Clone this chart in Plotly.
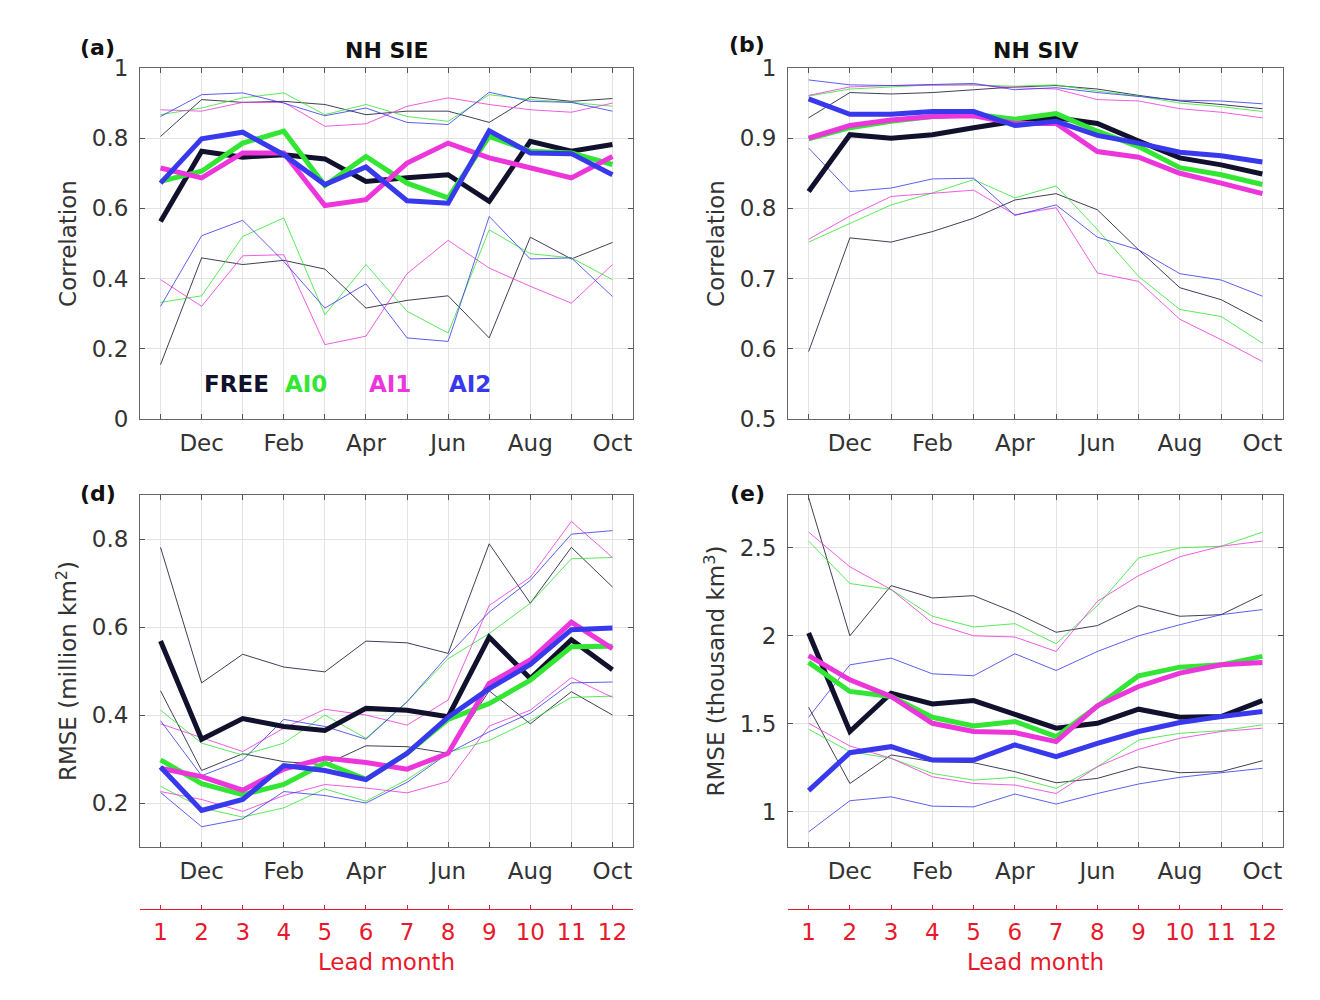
import plotly.graph_objects as go

# ---------------- data ----------------
leads = list(range(1, 13))
month_vals = [2, 4, 6, 8, 10, 12]
month_labels = ["Dec", "Feb", "Apr", "Jun", "Aug", "Oct"]
odd_leads = [1, 3, 5, 7, 9, 11]
lead_ticks = [str(i) for i in leads]
experiments = ["FREE", "AI0", "AI1", "AI2"]

# (a) NH SIE correlation
sie_corr_free = [0.563, 0.763, 0.746, 0.753, 0.741, 0.677, 0.687, 0.696, 0.620, 0.791, 0.763, 0.782]
sie_corr_ai0 = [0.677, 0.706, 0.786, 0.820, 0.665, 0.748, 0.672, 0.630, 0.805, 0.763, 0.758, 0.725]
sie_corr_ai1 = [0.715, 0.687, 0.758, 0.758, 0.608, 0.625, 0.729, 0.786, 0.744, 0.715, 0.687, 0.748]
sie_corr_ai2 = [0.672, 0.798, 0.817, 0.753, 0.668, 0.718, 0.622, 0.615, 0.821, 0.758, 0.756, 0.696]
sie_corr_free_hi = [0.805, 0.910, 0.902, 0.905, 0.896, 0.867, 0.877, 0.877, 0.845, 0.917, 0.905, 0.913]
sie_corr_ai0_hi = [0.867, 0.886, 0.915, 0.929, 0.867, 0.896, 0.862, 0.848, 0.924, 0.910, 0.902, 0.891]
sie_corr_ai1_hi = [0.881, 0.877, 0.902, 0.902, 0.834, 0.841, 0.891, 0.915, 0.896, 0.881, 0.874, 0.900]
sie_corr_ai2_hi = [0.862, 0.924, 0.929, 0.900, 0.864, 0.886, 0.845, 0.839, 0.931, 0.905, 0.902, 0.877]
sie_corr_free_lo = [0.155, 0.459, 0.440, 0.452, 0.427, 0.316, 0.338, 0.351, 0.231, 0.518, 0.456, 0.503]
sie_corr_ai0_lo = [0.332, 0.351, 0.520, 0.573, 0.297, 0.440, 0.307, 0.245, 0.539, 0.471, 0.459, 0.397]
sie_corr_ai1_lo = [0.397, 0.321, 0.465, 0.468, 0.212, 0.236, 0.414, 0.509, 0.430, 0.378, 0.330, 0.440]
sie_corr_ai2_lo = [0.321, 0.522, 0.566, 0.449, 0.316, 0.385, 0.231, 0.221, 0.577, 0.456, 0.459, 0.349]

# (b) NH SIV correlation
siv_corr_free = [0.824, 0.905, 0.900, 0.905, 0.915, 0.924, 0.929, 0.921, 0.896, 0.872, 0.862, 0.849]
siv_corr_ai0 = [0.899, 0.915, 0.924, 0.931, 0.934, 0.927, 0.935, 0.910, 0.888, 0.858, 0.848, 0.834]
siv_corr_ai1 = [0.900, 0.918, 0.926, 0.931, 0.932, 0.921, 0.921, 0.881, 0.873, 0.850, 0.836, 0.821]
siv_corr_ai2 = [0.956, 0.934, 0.934, 0.938, 0.938, 0.918, 0.924, 0.904, 0.893, 0.880, 0.875, 0.866]
siv_corr_free_hi = [0.929, 0.965, 0.963, 0.965, 0.969, 0.973, 0.975, 0.970, 0.961, 0.953, 0.948, 0.942]
siv_corr_ai0_hi = [0.960, 0.970, 0.973, 0.976, 0.976, 0.974, 0.976, 0.967, 0.960, 0.950, 0.945, 0.938]
siv_corr_ai1_hi = [0.961, 0.973, 0.975, 0.976, 0.976, 0.972, 0.970, 0.955, 0.953, 0.942, 0.937, 0.929]
siv_corr_ai2_hi = [0.983, 0.976, 0.975, 0.976, 0.978, 0.969, 0.972, 0.965, 0.960, 0.954, 0.953, 0.949]
siv_corr_free_lo = [0.596, 0.758, 0.752, 0.767, 0.786, 0.812, 0.821, 0.798, 0.741, 0.687, 0.670, 0.639]
siv_corr_ai0_lo = [0.752, 0.779, 0.805, 0.822, 0.841, 0.815, 0.832, 0.770, 0.703, 0.656, 0.646, 0.608]
siv_corr_ai1_lo = [0.756, 0.789, 0.817, 0.822, 0.826, 0.791, 0.801, 0.708, 0.696, 0.642, 0.613, 0.582]
siv_corr_ai2_lo = [0.886, 0.824, 0.829, 0.842, 0.843, 0.790, 0.805, 0.759, 0.741, 0.707, 0.698, 0.675]

# (d) NH SIE RMSE (million km2)
sie_rmse_free = [0.568, 0.345, 0.392, 0.374, 0.365, 0.415, 0.411, 0.396, 0.577, 0.483, 0.571, 0.503]
sie_rmse_ai0 = [0.298, 0.244, 0.219, 0.242, 0.291, 0.254, 0.313, 0.390, 0.426, 0.479, 0.555, 0.556]
sie_rmse_ai1 = [0.279, 0.260, 0.229, 0.277, 0.302, 0.292, 0.277, 0.313, 0.472, 0.525, 0.611, 0.551]
sie_rmse_ai2 = [0.282, 0.183, 0.208, 0.285, 0.274, 0.253, 0.313, 0.395, 0.460, 0.515, 0.594, 0.598]
sie_rmse_free_hi = [0.781, 0.473, 0.538, 0.509, 0.498, 0.568, 0.564, 0.540, 0.789, 0.654, 0.781, 0.691]
sie_rmse_ai0_hi = [0.411, 0.336, 0.309, 0.336, 0.400, 0.347, 0.430, 0.528, 0.585, 0.654, 0.755, 0.758]
sie_rmse_ai1_hi = [0.380, 0.349, 0.317, 0.370, 0.413, 0.400, 0.377, 0.434, 0.649, 0.713, 0.840, 0.758]
sie_rmse_ai2_hi = [0.387, 0.262, 0.298, 0.390, 0.374, 0.345, 0.430, 0.536, 0.634, 0.706, 0.811, 0.819]
sie_rmse_free_lo = [0.455, 0.274, 0.312, 0.294, 0.287, 0.330, 0.328, 0.313, 0.455, 0.380, 0.453, 0.400]
sie_rmse_ai0_lo = [0.238, 0.189, 0.168, 0.189, 0.232, 0.204, 0.253, 0.315, 0.342, 0.387, 0.440, 0.443]
sie_rmse_ai1_lo = [0.226, 0.208, 0.181, 0.217, 0.242, 0.234, 0.223, 0.249, 0.375, 0.411, 0.485, 0.440]
sie_rmse_ai2_lo = [0.224, 0.146, 0.164, 0.226, 0.217, 0.200, 0.247, 0.313, 0.362, 0.404, 0.473, 0.475]

# (e) NH SIV RMSE (thousand km3)
siv_rmse_free = [2.016, 1.456, 1.674, 1.613, 1.632, 1.551, 1.475, 1.503, 1.583, 1.537, 1.541, 1.632]
siv_rmse_ai0 = [1.849, 1.684, 1.655, 1.537, 1.488, 1.513, 1.427, 1.602, 1.773, 1.822, 1.835, 1.883]
siv_rmse_ai1 = [1.887, 1.750, 1.655, 1.503, 1.456, 1.450, 1.399, 1.602, 1.712, 1.788, 1.835, 1.849]
siv_rmse_ai2 = [1.120, 1.336, 1.370, 1.294, 1.294, 1.380, 1.313, 1.389, 1.456, 1.507, 1.541, 1.570]
siv_rmse_free_hi = [2.785, 2.000, 2.285, 2.215, 2.228, 2.133, 2.020, 2.058, 2.171, 2.111, 2.120, 2.234]
siv_rmse_ai0_hi = [2.538, 2.297, 2.263, 2.111, 2.050, 2.069, 1.955, 2.171, 2.443, 2.500, 2.509, 2.589]
siv_rmse_ai1_hi = [2.589, 2.392, 2.263, 2.073, 2.000, 1.993, 1.911, 2.196, 2.342, 2.449, 2.509, 2.538]
siv_rmse_ai2_hi = [1.537, 1.835, 1.873, 1.784, 1.773, 1.898, 1.803, 1.911, 2.000, 2.063, 2.120, 2.149]
siv_rmse_free_lo = [1.594, 1.161, 1.323, 1.285, 1.279, 1.228, 1.165, 1.190, 1.256, 1.222, 1.228, 1.290]
siv_rmse_ai0_lo = [1.469, 1.342, 1.304, 1.218, 1.180, 1.196, 1.133, 1.256, 1.408, 1.446, 1.461, 1.494]
siv_rmse_ai1_lo = [1.503, 1.374, 1.304, 1.199, 1.161, 1.152, 1.104, 1.256, 1.355, 1.418, 1.456, 1.475]
siv_rmse_ai2_lo = [0.886, 1.063, 1.085, 1.032, 1.028, 1.101, 1.044, 1.104, 1.158, 1.196, 1.222, 1.247]

# ---------------- styling ----------------
colors = {"FREE": "#11112e", "AI0": "#33e633", "AI1": "#ec36dc", "AI2": "#3838ec"}
FONT = "DejaVu Sans"
TXT = "#333333"
RED = "#e8192a"
W, H = 1320, 1000


def px_x(p):
    return p / W


def px_y(p):
    return 1 - p / H


xdom_left = [px_x(140), px_x(633)]
xdom_right = [px_x(788), px_x(1283)]
ydom_top = [px_y(419), px_y(68)]
ydom_bot = [px_y(847), px_y(495)]

panels = [
    ("", xdom_left, ydom_top,
     {"FREE": (sie_corr_free, sie_corr_free_hi, sie_corr_free_lo),
      "AI0": (sie_corr_ai0, sie_corr_ai0_hi, sie_corr_ai0_lo),
      "AI1": (sie_corr_ai1, sie_corr_ai1_hi, sie_corr_ai1_lo),
      "AI2": (sie_corr_ai2, sie_corr_ai2_hi, sie_corr_ai2_lo)},
     [0, 1], [0, 0.2, 0.4, 0.6, 0.8, 1], ["0", "0.2", "0.4", "0.6", "0.8", "1"], "Correlation"),
    ("2", xdom_right, ydom_top,
     {"FREE": (siv_corr_free, siv_corr_free_hi, siv_corr_free_lo),
      "AI0": (siv_corr_ai0, siv_corr_ai0_hi, siv_corr_ai0_lo),
      "AI1": (siv_corr_ai1, siv_corr_ai1_hi, siv_corr_ai1_lo),
      "AI2": (siv_corr_ai2, siv_corr_ai2_hi, siv_corr_ai2_lo)},
     [0.5, 1], [0.5, 0.6, 0.7, 0.8, 0.9, 1], ["0.5", "0.6", "0.7", "0.8", "0.9", "1"], "Correlation"),
    ("3", xdom_left, ydom_bot,
     {"FREE": (sie_rmse_free, sie_rmse_free_hi, sie_rmse_free_lo),
      "AI0": (sie_rmse_ai0, sie_rmse_ai0_hi, sie_rmse_ai0_lo),
      "AI1": (sie_rmse_ai1, sie_rmse_ai1_hi, sie_rmse_ai1_lo),
      "AI2": (sie_rmse_ai2, sie_rmse_ai2_hi, sie_rmse_ai2_lo)},
     [0.1, 0.9], [0.2, 0.4, 0.6, 0.8], ["0.2", "0.4", "0.6", "0.8"], "RMSE (million km<sup>2</sup>)"),
    ("4", xdom_right, ydom_bot,
     {"FREE": (siv_rmse_free, siv_rmse_free_hi, siv_rmse_free_lo),
      "AI0": (siv_rmse_ai0, siv_rmse_ai0_hi, siv_rmse_ai0_lo),
      "AI1": (siv_rmse_ai1, siv_rmse_ai1_hi, siv_rmse_ai1_lo),
      "AI2": (siv_rmse_ai2, siv_rmse_ai2_hi, siv_rmse_ai2_lo)},
     [0.8, 2.8], [1, 1.5, 2, 2.5], ["1", "1.5", "2", "2.5"], "RMSE (thousand km<sup>3</sup>)"),
]

fig = go.Figure()
layout = {}

for suf, xdom, ydom, data, yr, ytv, ytt, ytitle in panels:
    xa, ya = "x" + suf, "y" + suf
    for exp in experiments:
        mean, hi, lo = data[exp]
        for arr in (hi, lo):
            fig.add_trace(go.Scatter(x=leads, y=arr, mode="lines", xaxis=xa, yaxis=ya,
                                     line=dict(color=colors[exp], width=1), opacity=0.8,
                                     showlegend=False, hoverinfo="skip"))
    for exp in experiments:
        mean, hi, lo = data[exp]
        fig.add_trace(go.Scatter(x=leads, y=mean, mode="lines", xaxis=xa, yaxis=ya,
                                 line=dict(color=colors[exp], width=5),
                                 showlegend=False, name=exp))
    layout["xaxis" + suf] = dict(
        domain=xdom, anchor=ya, range=[0.5, 12.5], tickmode="array",
        tickvals=month_vals, ticktext=month_labels, ticks="inside", ticklen=5, tickcolor="#555",
        minor=dict(tickmode="array", tickvals=odd_leads, ticks="inside", ticklen=5,
                   tickcolor="#555", showgrid=True, gridcolor="#e3e3e3", gridwidth=1),
        showline=True, linecolor="#666", linewidth=1, mirror="allticks",
        showgrid=True, gridcolor="#e3e3e3", gridwidth=1, zeroline=False, automargin=False,
        tickfont=dict(family=FONT, size=23, color=TXT), ticklabelstandoff=3)
    layout["yaxis" + suf] = dict(
        domain=ydom, anchor=xa, range=yr, tickmode="array", tickvals=ytv, ticktext=ytt,
        ticks="inside", ticklen=5, tickcolor="#555",
        showline=True, linecolor="#666", linewidth=1, mirror="allticks",
        showgrid=True, gridcolor="#e3e3e3", gridwidth=1, zeroline=False, automargin=False,
        tickfont=dict(family=FONT, size=23, color=TXT), ticklabelstandoff=6,
        title=dict(text=ytitle, font=dict(family=FONT, size=23, color=TXT), standoff=8))

# lead-month axes (red), one under each column
for suf, xdom in (("5", xdom_left), ("6", xdom_right)):
    fig.add_trace(go.Scatter(x=[1], y=[0], mode="markers", marker=dict(size=0, opacity=0),
                             xaxis="x" + suf, yaxis="y" + suf, showlegend=False, hoverinfo="skip"))
    layout["yaxis" + suf] = dict(domain=[px_y(908.5), px_y(907.5)], anchor="x" + suf,
                                 range=[0, 1], visible=False, automargin=False)
    layout["xaxis" + suf] = dict(
        domain=xdom, anchor="y" + suf, range=[0.5, 12.5], tickmode="array",
        tickvals=leads, ticktext=lead_ticks, ticks="inside", ticklen=4,
        minor=dict(tickmode="array", tickvals=[0.5], ticks="inside", ticklen=4, tickcolor=RED),
        tickcolor=RED, showline=True, linecolor=RED, linewidth=1, showgrid=False,
        zeroline=False, automargin=False, tickfont=dict(family=FONT, size=23, color=RED),
        ticklabelstandoff=3,
        title=dict(text="Lead month", font=dict(family=FONT, size=23, color=RED), standoff=9))

annotations = []


def ann(text, x, y, size=22, color="#111", bold=True, xanchor="center", xref="paper", yref="paper"):
    annotations.append(dict(text=("<b>%s</b>" % text) if bold else text, x=x, y=y, xref=xref,
                            yref=yref, xanchor=xanchor, yanchor="middle", showarrow=False,
                            font=dict(family=FONT, size=size, color=color)))


ann("(a)", px_x(97), px_y(47))
ann("(b)", px_x(747), px_y(44))
ann("(d)", px_x(98), px_y(493))
ann("(e)", px_x(747), px_y(493))
ann("NH SIE", px_x(387), px_y(50))
ann("NH SIV", px_x(1036), px_y(50))

legend_pos = {"FREE": 2.02, "AI0": 3.97, "AI1": 6.02, "AI2": 7.98}
for exp in experiments:
    ann(exp, legend_pos[exp], 0.1, size=23, color=colors[exp], xanchor="left", xref="x", yref="y")

fig.update_layout(
    width=W, height=H, margin=dict(l=0, r=0, t=0, b=0, autoexpand=False),
    paper_bgcolor="white", plot_bgcolor="white",
    annotations=annotations, showlegend=False, **layout)

fig.write_html("out.html")
